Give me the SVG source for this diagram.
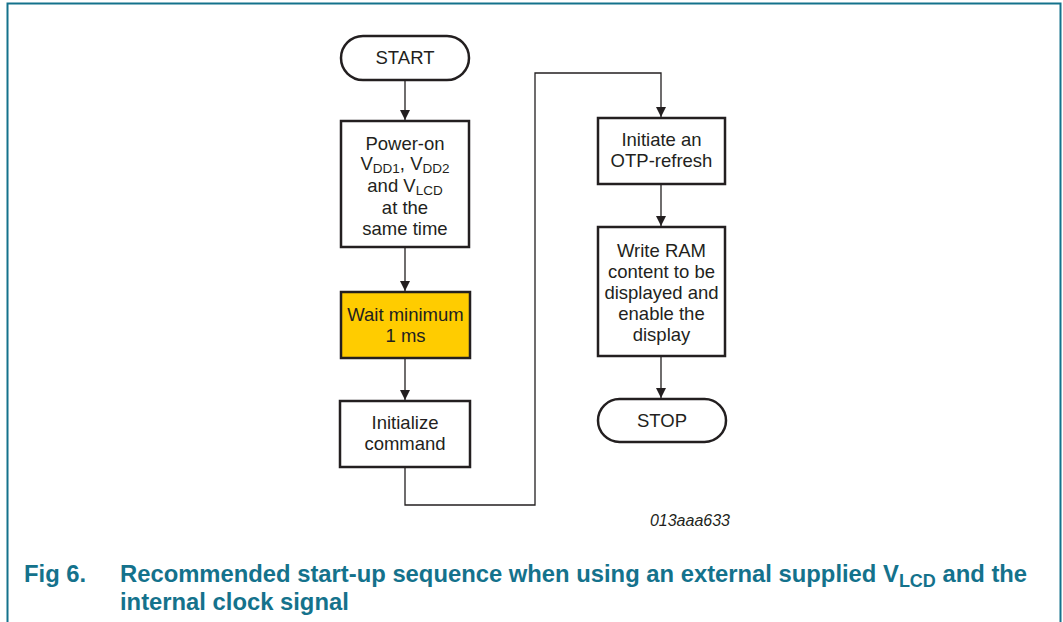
<svg xmlns="http://www.w3.org/2000/svg" width="1063" height="622" viewBox="0 0 1063 622">
<style>
.box{fill:#fff;stroke:#231f20;stroke-width:2.5}
.wait{fill:#ffcc00;stroke:#231f20;stroke-width:2.5}
.t{font-family:"Liberation Sans",Arial,sans-serif;font-size:18.5px;fill:#231f20;text-anchor:middle}
.con{fill:none;stroke:#231f20;stroke-width:1.3}
.cap{font-family:"Liberation Sans",Arial,sans-serif;font-size:23.8px;font-weight:bold;fill:#14728c}
</style>
<defs>
<marker id="ah" viewBox="0 0 10 10" refX="10" refY="5" markerWidth="10" markerHeight="10" markerUnits="userSpaceOnUse" orient="auto">
<path d="M0,0 L10,5 L0,10 z" fill="#231f20"/>
</marker>
</defs>
<path d="M7.5,622 V3.5 H1060.5 V622" fill="none" stroke="#14728c" stroke-width="2"/>
<g id="connectors">
<line class="con" x1="405" y1="81" x2="405" y2="120" marker-end="url(#ah)"/>
<line class="con" x1="405" y1="248" x2="405" y2="291" marker-end="url(#ah)"/>
<line class="con" x1="405" y1="359" x2="405" y2="400" marker-end="url(#ah)"/>
<path class="con" d="M405,468 V505 H535 V73 H661 V117" marker-end="url(#ah)"/>
<line class="con" x1="661" y1="185" x2="661" y2="226" marker-end="url(#ah)"/>
<line class="con" x1="661" y1="357" x2="661" y2="398" marker-end="url(#ah)"/>
</g>
<g id="start">
<rect class="box" x="341" y="36" width="128" height="44" rx="22" ry="22"/>
<text class="t" x="405" y="64">START</text>
</g>
<g id="poweron">
<rect class="box" x="341" y="121" width="128" height="126"/>
<text class="t" x="405" y="150">Power-on</text>
<text class="t" x="405" y="170">V<tspan font-size="13.5" dy="3">DD1</tspan><tspan dy="-3">, V</tspan><tspan font-size="13.5" dy="3">DD2</tspan></text>
<text class="t" x="405" y="192">and V<tspan font-size="13.5" dy="3">LCD</tspan></text>
<text class="t" x="405" y="214">at the</text>
<text class="t" x="405" y="235">same time</text>
</g>
<g id="wait">
<rect class="wait" x="341" y="292" width="129" height="66"/>
<text class="t" x="405.5" y="321">Wait minimum</text>
<text class="t" x="405.5" y="342">1 ms</text>
</g>
<g id="init">
<rect class="box" x="340" y="401" width="130" height="66"/>
<text class="t" x="405" y="429">Initialize</text>
<text class="t" x="405" y="450">command</text>
</g>
<g id="otp">
<rect class="box" x="598" y="118" width="127" height="66"/>
<text class="t" x="661.5" y="146">Initiate an</text>
<text class="t" x="661.5" y="167">OTP-refresh</text>
</g>
<g id="write">
<rect class="box" x="598" y="227" width="127" height="129"/>
<text class="t" x="661.5" y="257">Write RAM</text>
<text class="t" x="661.5" y="278">content to be</text>
<text class="t" x="661.5" y="299">displayed and</text>
<text class="t" x="661.5" y="320">enable the</text>
<text class="t" x="661.5" y="341">display</text>
</g>
<g id="stop">
<rect class="box" x="598" y="399" width="128" height="43" rx="21.5" ry="21.5"/>
<text class="t" x="662" y="427">STOP</text>
</g>
<text x="730" y="526" font-family="'Liberation Sans',Arial,sans-serif" font-size="16" font-style="italic" fill="#231f20" text-anchor="end">013aaa633</text>
<text class="cap" x="24" y="582">Fig 6.</text>
<text class="cap" x="120" y="582">Recommended start-up sequence when using an external supplied V<tspan font-size="18" dy="5">LCD</tspan><tspan dy="-5"> and the</tspan></text>
<text class="cap" x="120" y="610">internal clock signal</text>
</svg>
